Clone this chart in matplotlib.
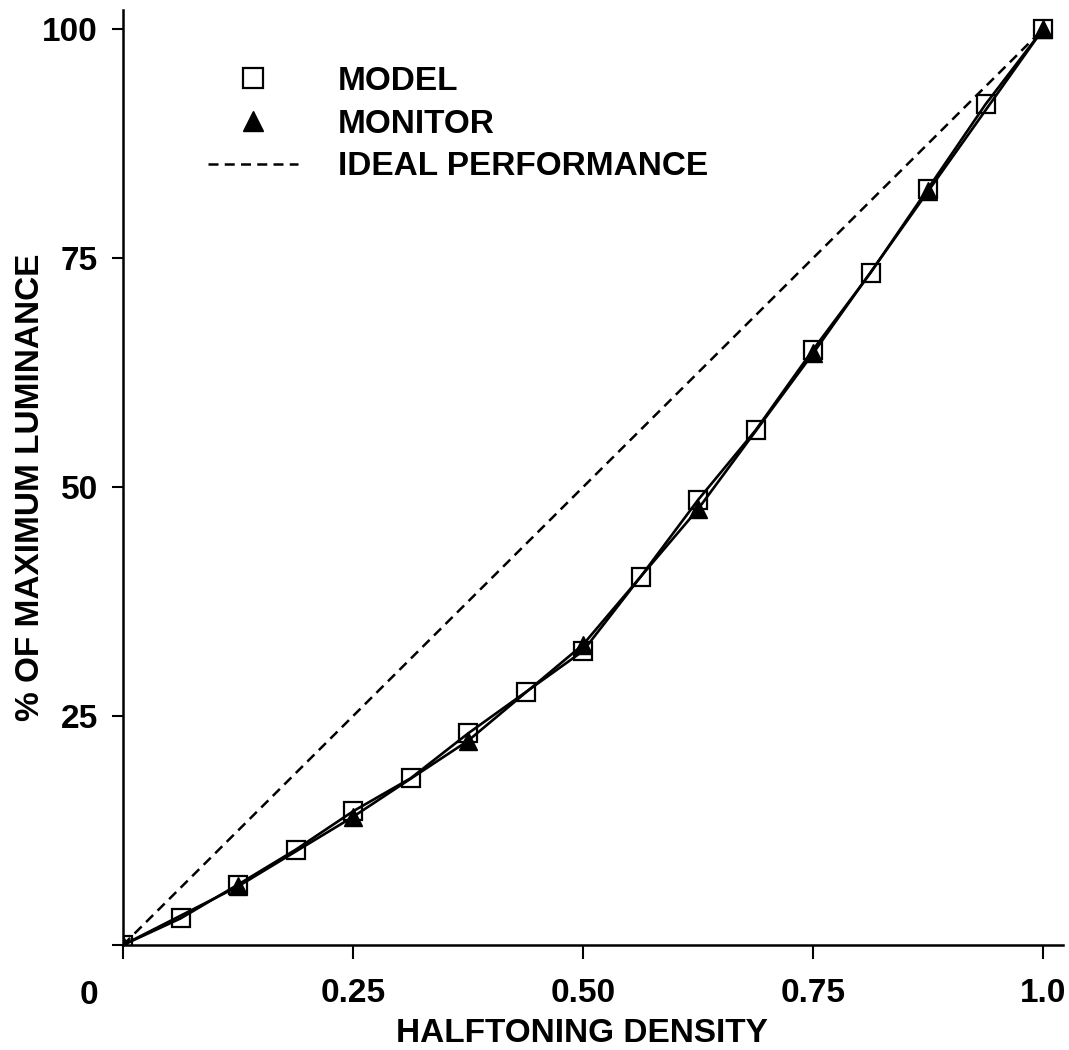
import numpy as np
import matplotlib
matplotlib.use('Agg')
import matplotlib.pyplot as plt
from matplotlib.lines import Line2D

plt.rcParams['font.family'] = ['Liberation Sans', 'DejaVu Sans']
plt.rcParams['font.weight'] = 'bold'
plt.rcParams['axes.labelweight'] = 'bold'

# halftoning density steps (sixteenths) and measured/model luminance
density_model = [0, 0.0625, 0.125, 0.1875, 0.25, 0.3125, 0.375, 0.4375, 0.5,
                 0.5625, 0.625, 0.6875, 0.75, 0.8125, 0.875, 0.9375, 1.0]
lum_model = [0, 2.9, 6.6, 10.4, 14.6, 18.2, 23.1, 27.6, 32.1,
             40.2, 48.6, 56.2, 65.0, 73.4, 82.6, 91.8, 100]

density_monitor = [0, 0.125, 0.25, 0.375, 0.5, 0.625, 0.75, 0.875, 1.0]
lum_monitor = [0, 6.4, 14.0, 22.3, 32.8, 47.6, 64.6, 82.3, 100]

ideal_x = [0, 1.0]
ideal_y = [0, 100]

xticks = [0, 0.25, 0.5, 0.75, 1.0]
xticklabels = ['', '0.25', '0.50', '0.75', '1.0']
yticks = [0, 25, 50, 75, 100]
yticklabels = ['', '25', '50', '75', '100']

fs = 24
dash = (0, (4, 2.5))
fig = plt.figure(figsize=(10.69, 10.5), dpi=100)
ax = fig.add_axes([0.1151, 0.1, 0.8793, 0.8905])

ax.plot(ideal_x, ideal_y, color='black', lw=1.8, ls=dash)
ax.plot(density_monitor, lum_monitor, color='black', lw=1.9,
        marker='^', ms=13, mfc='black', mec='black')
ax.plot(density_model, lum_model, color='black', lw=1.9,
        marker='s', ms=13, mfc='none', mec='black', mew=1.6)

ax.set_xlim(0, 1.0217)
ax.set_ylim(0, 102.1)
for s in ['top', 'right']:
    ax.spines[s].set_visible(False)
for s in ['left', 'bottom']:
    ax.spines[s].set_linewidth(1.8)

ax.set_xticks(xticks)
ax.set_xticklabels(xticklabels)
ax.set_yticks(yticks)
ax.set_yticklabels(yticklabels)
ax.tick_params(axis='x', length=10, width=1.5, pad=14, labelsize=fs)
ax.tick_params(axis='y', length=8, width=1.5, pad=10, labelsize=fs)
# origin label sits off the corner, below and left of both axes
fig.text(89 / 1069, 1 - 995 / 1050, '0', fontsize=fs, ha='center', va='center')

ax.set_xlabel('HALFTONING DENSITY', fontsize=fs)
ax.set_ylabel('% OF MAXIMUM LUMINANCE', fontsize=fs)
ax.xaxis.set_label_coords(0.488, -0.078)
ax.yaxis.set_label_coords(-0.082, 0.49)

handles = [
    Line2D([], [], ls='none', marker='s', ms=14, mfc='none', mec='black', mew=1.6),
    Line2D([], [], ls='none', marker='^', ms=15, mfc='black', mec='black'),
    Line2D([], [], color='black', lw=1.8, ls=dash),
]
ax.legend(handles, ['MODEL', 'MONITOR', 'IDEAL PERFORMANCE'],
          loc='upper left', bbox_to_anchor=(0.0904, 0.94), frameon=False,
          borderpad=0, borderaxespad=0, fontsize=fs, handlelength=2.7,
          handletextpad=1.2, labelspacing=0.35)

fig.savefig('out.png', dpi=100)
